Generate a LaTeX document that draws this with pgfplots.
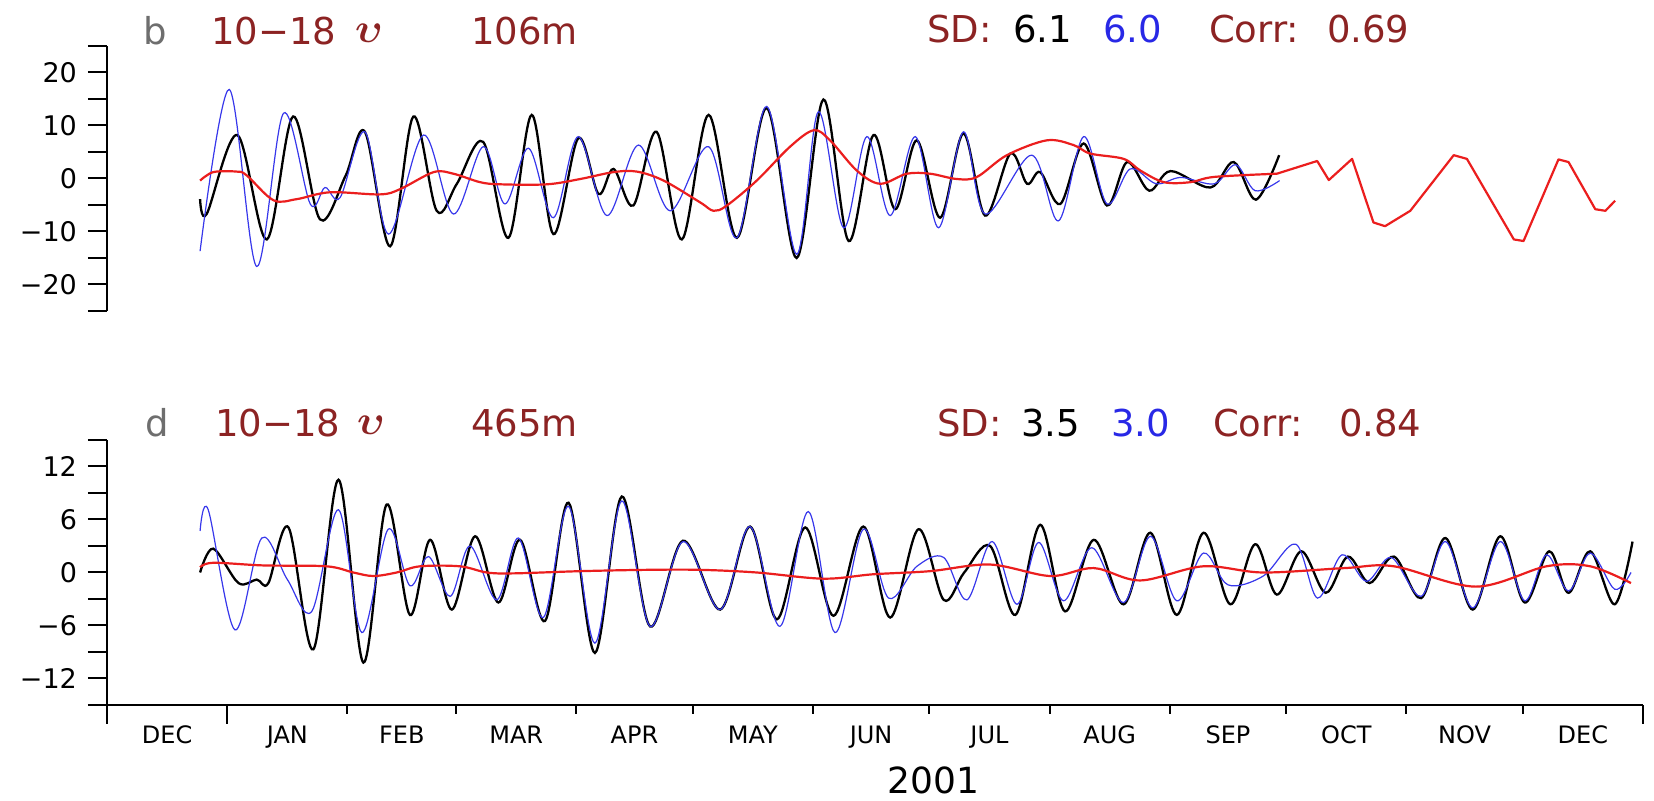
\documentclass[border=0pt]{standalone}
\usepackage{fontspec}
\setmainfont{DejaVu Sans}
\usepackage{pgfplots}
\pgfplotsset{compat=1.18}
\definecolor{tred}{RGB}{140,35,35}
\definecolor{tblue}{RGB}{40,40,230}
\definecolor{lred}{RGB}{235,30,30}
\definecolor{lblue}{RGB}{55,55,235}
\definecolor{bgray}{RGB}{110,110,110}
\newcommand{\tf}{\fontsize{18.5}{22}\selectfont}
\newcommand{\ups}{{\fontsize{22}{24}\selectfont$\boldsymbol{\upsilon}$}}
\usepackage{amsmath}
\begin{document}
\begin{tikzpicture}
\useasboundingbox (0pt,0pt) rectangle (827pt,400.5pt);
% ---------- top panel ----------
\begin{axis}[
 at={(53.5pt,245pt)}, anchor=south west, scale only axis, width=768pt, height=132.5pt,
 xmin=0, xmax=396, ymin=-25, ymax=25,
 axis x line=none, axis y line*=left,
 axis line style={line width=1pt,-},
 tick align=outside,
 ytick={-25,-20,-15,-10,-5,0,5,10,15,20,25},
 yticklabels={,−20,,−10,,0,,10,,20,},
 major tick length=9.5pt,
 tick style={line width=1pt, black},
 yticklabel style={font=\fontsize{13.5}{15}\selectfont, xshift=-2pt},
]
\addplot[black, line width=1.15pt, smooth, tension=0.55] table {
24 -3.9
25.7 -6.7
33.6 8.2
41.2 -11.5
48.0 11.7
54.9 -7.7
61.5 0.5
66.5 8.8
73.0 -12.8
79.0 11.7
85.0 -6.1
90.2 -1.0
97.0 6.9
103.5 -11.2
109.5 12.0
115.1 -10.5
121.5 7.6
126.7 -2.9
130.6 1.8
135.7 -5.1
141.7 8.8
148.2 -11.5
155.1 12.0
162.4 -11.2
170.1 13.3
177.8 -15.0
184.7 14.9
191.2 -11.8
197.6 8.2
203.2 -5.8
208.8 7.2
214.8 -7.4
220.8 8.5
226.4 -7.0
232.9 4.7
237.2 -1.0
240.6 1.2
245.8 -4.8
251.8 6.6
257.8 -5.1
263.0 3.1
268.7 -2.3
274.2 1.4
284.5 -1.7
290.5 3.1
296.2 -4.0
302.2 4.4
};
\addplot[lblue, line width=0.6pt, smooth, tension=0.55] table {
24 -13.7
31.5 16.8
38.6 -16.6
45.5 12.3
52.4 -4.8
56.2 -1.7
60.1 -3.6
66.5 8.8
72.6 -10.5
81.6 8.2
89.3 -6.7
97.0 6.0
102.6 -4.8
108.7 5.7
115.1 -7.4
121.5 7.9
128.9 -7.0
137.0 6.3
145.2 -6.1
155.1 6.0
162.4 -11.2
170.1 13.6
177.8 -14.3
183.4 12.6
189.9 -9.3
195.9 7.9
201.9 -7.0
208.4 7.9
214.4 -9.3
220.8 8.8
226.4 -6.7
238.4 4.4
245.3 -8.0
251.8 7.9
257.8 -4.8
263.8 1.8
270.5 -1.0
276.9 0.2
285.5 -1.0
291.0 2.6
296.0 -2.3
302.3 -0.4
};
\addplot[lred, line width=1.1pt, smooth, tension=0.55] table {
24 -0.4
27.4 1.2
33.4 1.3
36 0.6
42.9 -4.1
48.9 -3.9
57.5 -2.6
70.4 -3.0
75.6 -2.0
84.2 1.2
89.3 0.9
96.2 -0.7
101.4 -1.1
113.4 -1.1
122 -0.1
130.6 1.2
136.6 1.3
143.5 -0.4
152.9 -4.5
156.4 -6.1
159.8 -5.1
167.5 -0.4
176.1 6.0
182.2 9.1
186.4 7.2
193.3 1.5
199.3 -1.0
206.2 0.9
212.2 0.9
219.1 -0.1
224.3 0.3
232.0 4.4
242.3 7.2
249.2 6.3
253.5 4.7
262.1 3.7
266.4 1.5
272.5 -0.7
279.3 -0.7
285.5 0.3
301.6 0.9
};
\addplot[lred, line width=1.1pt, line join=round] table {
301.6 0.9
312.0 3.3
315.0 -0.3
321.0 3.7
326.5 -8.3
329.5 -9.0
336.0 -6.1
347.2 4.4
350.6 3.7
362.7 -11.5
365.2 -11.8
374.2 3.6
376.8 3.1
383.7 -5.8
386.3 -6.1
388.8 -4.2
};
\end{axis}
% ---------- bottom panel ----------
\begin{axis}[
 at={(53.5pt,48pt)}, anchor=south west, scale only axis, width=768pt, height=132.5pt,
 xmin=0, xmax=396, ymin=-15, ymax=15,
 axis x line*=bottom, axis y line*=left,
 axis line style={line width=1pt,-},
 tick align=outside,
 tick style={line width=1pt, black},
 xtick={15.5,46.5,76,105.5,136,166.5,197,227.5,258.5,289,319.5,350,380.5},
 xticklabels={DEC,JAN,FEB,MAR,APR,MAY,JUN,JUL,AUG,SEP,OCT,NOV,DEC},
 major tick length=0pt,
 minor xtick={62,90,121,151,182,212,243,274,304,335,365},
 minor tick length=4.5pt,
 extra x ticks={0,31,396}, extra x tick labels={},
 extra x tick style={major tick length=9.5pt},
 ytick=\empty,
 extra y ticks={-15,-12,-9,-6,-3,0,3,6,9,12,15},
 extra y tick labels={,−12,,−6,,0,,6,,12,},
 extra y tick style={major tick length=9.5pt},
 yticklabel style={font=\fontsize{13.5}{15}\selectfont, xshift=-2pt},
 xticklabel style={font=\fontsize{12}{14}\selectfont, yshift=-7pt},
 clip=false,
]
\addplot[black, line width=1.15pt, smooth, tension=0.55] table {
24.0 0
27.4 2.7
33.9 -1.2
38.6 -0.8
41.6 -1.2
46.8 5.1
53.2 -8.7
59.7 10.5
66.1 -10.2
72.1 7.7
78.1 -4.8
83.3 3.7
88.9 -4.2
94.9 4.1
100.9 -3.4
106.5 3.7
112.9 -5.5
119.0 7.9
125.8 -9.1
132.7 8.6
140.0 -6.1
148.5 3.6
158.1 -4.2
165.8 5.2
172.7 -5.3
180.0 5.1
187.3 -4.9
195.0 5.2
201.9 -5.1
209.2 4.9
215.7 -3.1
221.0 0.0
227.7 3.0
234.2 -4.8
240.6 5.4
247.0 -4.4
254.4 3.7
262.1 -3.6
269.0 4.5
275.8 -4.8
282.7 4.5
289.6 -3.6
296.0 3.2
301.6 -2.5
307.9 2.4
314.2 -2.3
319.9 1.8
325.5 -1.2
331.8 1.8
338.8 -2.9
345.1 3.9
352.1 -4.2
359.2 4.1
365.5 -3.4
371.8 2.4
376.8 -2.3
382.4 2.4
388.7 -3.6
393.3 3.5
};
\addplot[lblue, line width=0.6pt, smooth, tension=0.55] table {
24 4.7
26.1 7.1
33.0 -6.5
39.9 3.9
46.5 -0.8
52.8 -4.4
59.7 7.1
65.7 -6.8
72.5 4.9
78.1 -1.5
82.9 1.8
88.5 -2.7
93.6 3.0
100.5 -3.1
106.1 3.9
112.5 -5.1
119.0 7.5
125.8 -8.0
132.7 8.1
140.0 -6.1
148.5 3.5
158.1 -4.2
165.8 5.2
173.5 -6.1
180.8 6.9
187.7 -6.8
195.0 4.9
201.5 -2.9
208.8 0.7
215.7 1.7
221.7 -3.1
228.2 3.5
234.6 -3.6
240.2 3.4
246.6 -3.2
253.9 2.8
262.1 -3.4
269.0 4.1
275.8 -3.2
282.7 2.2
289.0 -1.4
298.1 -0.4
306.5 3.2
312.1 -2.9
318.4 2.0
324.7 -1.0
331.1 1.7
338.8 -2.7
345.1 3.5
352.1 -4.0
359.2 3.5
365.5 -3.2
371.1 2.0
376.8 -2.1
382.4 2.2
388.7 -1.9
392.9 0
};
\addplot[lred, line width=1.1pt, smooth, tension=0.55] table {
24 0.6
27.4 1.1
40.3 0.8
56.6 0.7
63.5 0
68.7 -0.4
74.7 0
80.7 0.7
91 0.7
97.9 0
104.8 -0.1
122 0.15
139.2 0.3
152.9 0.3
167.5 0
184.7 -0.7
197.6 -0.2
212.2 0.15
227.7 0.9
243.2 -0.4
254.4 0.5
266.4 -0.9
282.6 0.7
298 0
319.1 0.5
331.8 0.7
352.9 -1.6
371.1 0.7
382.4 0.7
392.9 -1.2
};
\node[font=\fontsize{18}{21}\selectfont] at (axis cs:213,-15) [yshift=-37.5pt] {2001};
\end{axis}
% ---------- titles ----------
\node[anchor=west, text=bgray, font=\tf] at (68pt,385pt) {b};
\node[anchor=west, text=tred, font=\tf] at (102pt,385pt) {10−18};
\node[anchor=west, text=tred] at (174pt,384pt) {\ups};
\node[anchor=west, text=tred, font=\tf] at (232pt,385pt) {106m};
\node[anchor=west, text=tred, font=\tf] at (460pt,386pt) {SD:};
\node[anchor=west, text=black, font=\tf] at (503pt,386pt) {6.1};
\node[anchor=west, text=tblue, font=\tf] at (548pt,386pt) {6.0};
\node[anchor=west, text=tred, font=\tf] at (601pt,386pt) {Corr:};
\node[anchor=west, text=tred, font=\tf] at (660pt,386pt) {0.69};
\node[anchor=west, text=bgray, font=\tf] at (69pt,189pt) {d};
\node[anchor=west, text=tred, font=\tf] at (104pt,189pt) {10−18};
\node[anchor=west, text=tred] at (175pt,188pt) {\ups};
\node[anchor=west, text=tred, font=\tf] at (232pt,189pt) {465m};
\node[anchor=west, text=tred, font=\tf] at (465pt,189pt) {SD:};
\node[anchor=west, text=black, font=\tf] at (507pt,189pt) {3.5};
\node[anchor=west, text=tblue, font=\tf] at (552pt,189pt) {3.0};
\node[anchor=west, text=tred, font=\tf] at (603pt,189pt) {Corr:};
\node[anchor=west, text=tred, font=\tf] at (666pt,189pt) {0.84};
\end{tikzpicture}
\end{document}
